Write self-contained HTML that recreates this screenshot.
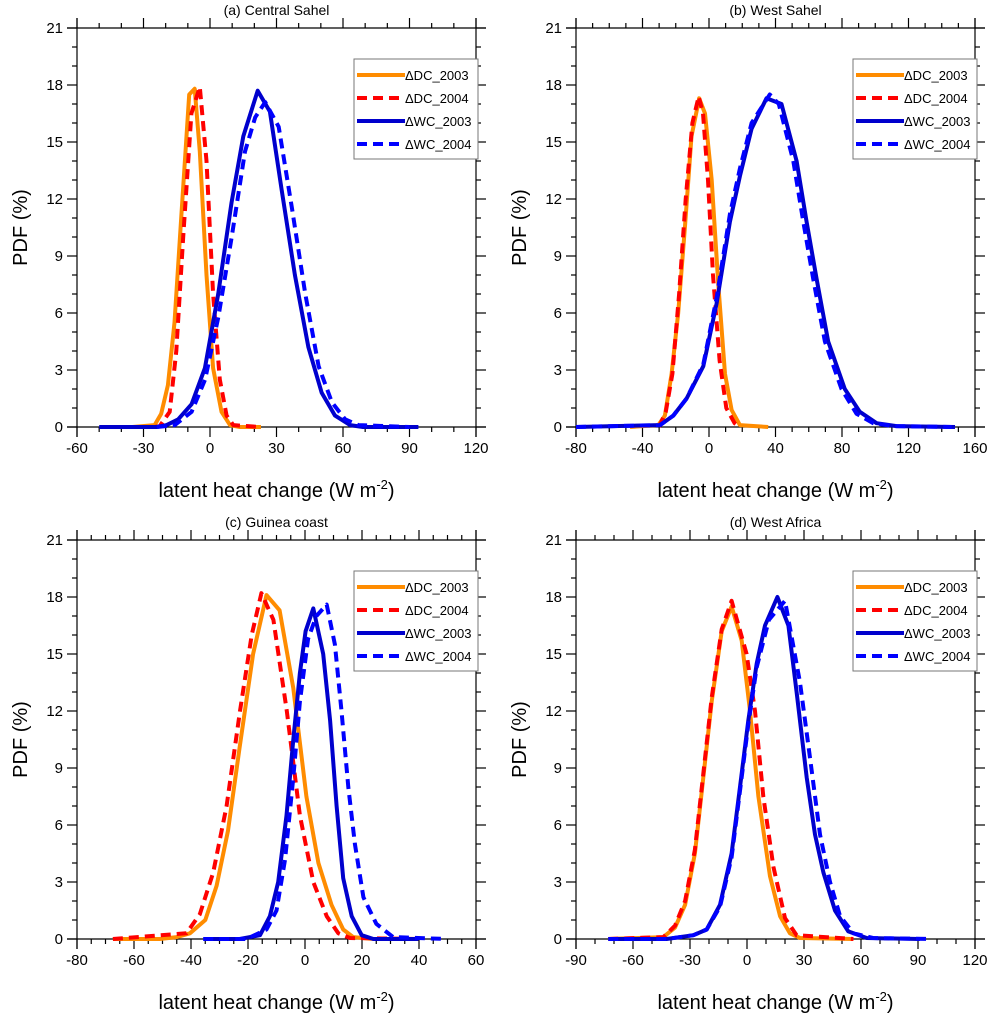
<!DOCTYPE html>
<html><head><meta charset="utf-8">
<style>
html,body{margin:0;padding:0;background:#fff;}
svg{display:block;font-family:"Liberation Sans",sans-serif;}
</style></head>
<body>
<svg id="fig" width="990" height="1015" viewBox="0 0 990 1015"></svg>
<script>
// Panel (a) Central Sahel
const aDC03x=[-35,-25,-22,-19,-16,-13,-9.4,-6.9,-4.6,-1.6,1.4,5.2,9,13.5,23];
const aDC03y=[0,0.1,0.7,2.2,5.5,11,17.5,17.8,14.5,8,3.1,0.8,0.1,0,0];
const aDC04x=[-25,-22.7,-18.2,-15.2,-12.1,-8.4,-4.6,-1.6,1.4,4.4,7.5,10.5,22.5];
const aDC04y=[0,0.05,0.8,4,10,16.5,17.9,14,7,2.5,0.6,0.1,0];
const aWC03x=[-50,-24,-19.6,-14.4,-8.3,-2.3,3.7,9.7,15,21.5,27,32.3,38.3,44.4,50.4,56.4,63.2,69,94];
const aWC03y=[0,0,0.1,0.4,1.2,3.1,7,11.8,15.3,17.7,16.6,12.5,8,4.2,1.8,0.6,0.1,0,0];
const aWC04x=[-24,-15.9,-8.3,-2.2,3.8,9.8,15.8,20.4,24.9,31,37,43,49,55,61,67,90];
const aWC04y=[0,0.1,0.8,2.5,5.8,10,14.5,16.3,17.1,15.8,11.5,7,3.2,1.3,0.4,0.1,0];
// Panel (b) West Sahel
const bDC03x=[-47.5,-30.5,-26.5,-22.5,-18.5,-14.5,-10.5,-5.9,-2.4,1.6,5.6,9.6,13.6,18.6,35.6];
const bDC03y=[0,0.1,0.6,2.8,6,10.5,15.3,17.3,16.5,13,7.5,2.8,0.9,0.1,0];
const bDC04x=[-30,-26,-22,-18,-14,-10,-6.2,-3.6,-0.6,2.4,6.4,10.4,15.4,18.4];
const bDC04y=[0,0.8,2.8,7,12,16,17.4,16.5,13,8,3.5,1,0.2,0];
const bWC03x=[-80,-29.5,-21.5,-13.5,-3.4,4.6,12.6,18.6,25.6,34.6,43.6,52.7,58.7,64.7,71.7,81.7,90.7,100.8,112.8,148];
const bWC03y=[0,0.1,0.6,1.5,3.2,6.5,10.8,13.2,15.7,17.3,17,14,10.8,7.8,4.5,2,0.8,0.2,0.05,0];
const bWC04x=[-80,-29.5,-21.5,-13.5,-3.4,4.6,12.6,18.6,25.6,36.6,42,50.7,56.7,62.7,69.7,79.7,88.7,98.8,110.8,146];
const bWC04y=[0,0.1,0.6,1.5,3.3,6.8,11.2,13.6,16,17.5,17,14,10.8,7.8,4.5,2,0.7,0.2,0.05,0];
// Panel (c) Guinea coast
const cDC03x=[-67.4,-51,-45,-40.4,-35,-31,-27,-23,-18.2,-13.5,-8.9,-4.1,0.5,4.7,9.3,13.4,16.9,24,39.8];
const cDC03y=[0,0,0.1,0.3,1,2.8,5.7,10,15,18.1,17.3,13.2,7.5,4,1.8,0.5,0.1,0,0];
const cDC04x=[-67.4,-41.6,-36.9,-32.2,-27.5,-22.8,-18.7,-15.3,-11.1,-6.4,-1.8,2.9,7.6,11.7,15.8,39.8];
const cDC04y=[0,0.3,1.3,3.5,7,12,16,18.2,16.8,12,6.5,3,1.2,0.3,0.05,0];
const cWC03x=[-35.7,-22.9,-15.8,-12.3,-9.4,-6.5,-4.1,-1.8,0.2,2.9,6.4,8.8,11.1,13.4,16.4,19.9,24,39.8];
const cWC03y=[0,0,0.2,1.2,3,6.5,10.5,14,16.2,17.4,15,11.5,7,3.2,1.2,0.2,0,0];
const cWC04x=[-35.7,-20.5,-13.5,-10,-7,-4.1,-1.8,1.1,4,7.6,10.5,12.8,15.2,17.5,20.5,25,30.9,49.7];
const cWC04y=[0,0,0.5,1.5,4.2,8.5,12.5,15.8,17,17.6,15.5,12,8,5,2.2,0.8,0.1,0];
// Panel (d) West Africa
const dDC03x=[-73,-44,-37.9,-32.6,-27.4,-23,-18.6,-13.3,-8.1,-2.8,1.6,6,12.1,17.4,22.6,27.9,56];
const dDC03y=[0,0.1,0.6,1.8,4.5,8.5,12.5,16.2,17.5,15.7,12,7.5,3.3,1.2,0.3,0.05,0];
const dDC04x=[-73,-44,-37.9,-32.6,-27.4,-23,-18.6,-13.3,-8.1,-0.2,4.2,8.6,13.9,20,26.1,56];
const dDC04y=[0,0.1,0.7,2,4.7,8.7,12.7,16.3,17.8,15,12,7.5,3.8,1.1,0.2,0];
const dWC03x=[-73,-42.3,-28.2,-21.2,-14.2,-8.1,-3.7,0.7,5.1,9.5,16,21.8,26.1,31.4,35.8,40.2,46.3,53.3,63,91];
const dWC03y=[0,0,0.2,0.5,1.8,4.5,8,11.5,14.5,16.5,18,16.5,13,8.5,5.5,3.5,1.5,0.4,0.05,0];
const dWC04x=[-73,-42.3,-28.2,-21.2,-14.2,-8.1,-3.7,0.7,5.1,11.5,20,27.9,33.2,38.4,43.7,49,56,66.3,96.3];
const dWC04y=[0,0,0.2,0.5,1.7,4.3,7.8,11.3,14.3,16.8,17.8,13.5,9.5,5.5,3,1.2,0.3,0.05,0];

const aXTicks=[-60,-30,0,30,60,90,120];
const bXTicks=[-80,-40,0,40,80,120,160];
const cXTicks=[-80,-60,-40,-20,0,20,40,60];
const dXTicks=[-90,-60,-30,0,30,60,90,120];
const yTicks=[0,3,6,9,12,15,18,21];
const seriesNames=["\u0394DC_2003","\u0394DC_2004","\u0394WC_2003","\u0394WC_2004"];
const panelTitles=["(a) Central Sahel","(b) West Sahel","(c) Guinea coast","(d) West Africa"];

const NS="http://www.w3.org/2000/svg";
const svg=document.getElementById('fig');
function mk(tag,attrs,parent){const e=document.createElementNS(NS,tag);for(const k in attrs)e.setAttribute(k,attrs[k]);(parent||svg).appendChild(e);return e;}

const styles=[
 {c:"#FF8C00",d:null},{c:"#FF0000",d:"10 6"},{c:"#0000CD",d:null},{c:"#0000FF",d:"10 6"}];

function panel(key,L,T,xTicks,minorStep,xs,ys,title){
  const W=399,H=399,x0=xTicks[0],x1=xTicks[xTicks.length-1];
  const X=v=>L+(v-x0)/(x1-x0)*W, Y=v=>T+H-(v/21)*H;
  const g=mk('g',{});
  
  
  const t=mk('text',{x:L+W/2,y:T-13,'text-anchor':'middle','font-size':14},g);
  t.textContent=title;
  
  
  // frame extended
  const ax=mk('g',{stroke:'#000','stroke-width':1.2,fill:'none'},g);
  
  
  mk('line',{x1:L-10,y1:T,x2:L+W+10,y2:T},ax);
  mk('line',{x1:L-10,y1:T+H,x2:L+W+10,y2:T+H},ax);
  mk('line',{x1:L,y1:T-10,x2:L,y2:T+H+10},ax);
  mk('line',{x1:L+W,y1:T-10,x2:L+W,y2:T+H+10},ax);
  for(let v=x0;v<=x1+1e-6;v+=minorStep){const px=X(v);const maj=xTicks.some(m=>Math.abs(m-v)<1e-6);const len=maj?10:5;
    mk('line',{x1:px,y1:T+H,x2:px,y2:T+H+len},ax);mk('line',{x1:px,y1:T,x2:px,y2:T-len},ax);}
  for(let v=0;v<=21;v++){const py=Y(v);const len=v%3===0?10:5;
    mk('line',{x1:L,y1:py,x2:L-len,y2:py},ax);mk('line',{x1:L+W,y1:py,x2:L+W+len,y2:py},ax);}
  xTicks.forEach(v=>{const tx=mk('text',{x:X(v),y:T+H+26,'text-anchor':'middle','font-size':15},g);tx.textContent=v;
    
    });
  yTicks.forEach(v=>{const tx=mk('text',{x:L-14,y:Y(v)+5,'text-anchor':'end','font-size':15},g);tx.textContent=v;
    
    });
  const yt=mk('text',{x:0,y:0,'text-anchor':'middle','font-size':20,transform:`translate(${L-50},${T+H/2}) rotate(-90)`},g);
  yt.textContent='PDF (%)';
  
  
  const xt=mk('text',{x:L+W/2,y:T+H+70,'text-anchor':'middle','font-size':20},g);
  xt.innerHTML='latent heat change (W m<tspan font-size="13" dy="-8">-2</tspan><tspan dy="8">)</tspan>';
  
  
  // series
  for(let s=0;s<4;s++){
    const pts=xs[s].map((v,i)=>X(v).toFixed(1)+','+Y(ys[s][i]).toFixed(1)).join(' ');
    const p=mk('polyline',{points:pts,fill:'none',stroke:styles[s].c,'stroke-width':4,'stroke-linejoin':'round'},g);
    if(styles[s].d)p.setAttribute('stroke-dasharray',styles[s].d);
    
    
  }
  // legend
  const lg=mk('g',{},g);
  
  
  const lx=L+W-122,ly=T+31;
  mk('rect',{x:lx,y:ly,width:124,height:100,fill:'#fff',stroke:'#777','stroke-width':1},lg);
  for(let s=0;s<4;s++){
    const yy=ly+16+s*23;
    const ln=mk('line',{x1:lx+3,y1:yy,x2:lx+51,y2:yy,stroke:styles[s].c,'stroke-width':4},lg);
    if(styles[s].d)ln.setAttribute('stroke-dasharray',styles[s].d);
    const tx=mk('text',{x:lx+51,y:yy+5,'font-size':13},lg);tx.textContent=seriesNames[s];
    
    
  }
}
panel('a',77,28,aXTicks,10,[aDC03x,aDC04x,aWC03x,aWC04x],[aDC03y,aDC04y,aWC03y,aWC04y],panelTitles[0]);
panel('b',576,28,bXTicks,10,[bDC03x,bDC04x,bWC03x,bWC04x],[bDC03y,bDC04y,bWC03y,bWC04y],panelTitles[1]);
panel('c',77,540,cXTicks,5,[cDC03x,cDC04x,cWC03x,cWC04x],[cDC03y,cDC04y,cWC03y,cWC04y],panelTitles[2]);
panel('d',576,540,dXTicks,10,[dDC03x,dDC04x,dWC03x,dWC04x],[dDC03y,dDC04y,dWC03y,dWC04y],panelTitles[3]);
</script>
</body></html>
